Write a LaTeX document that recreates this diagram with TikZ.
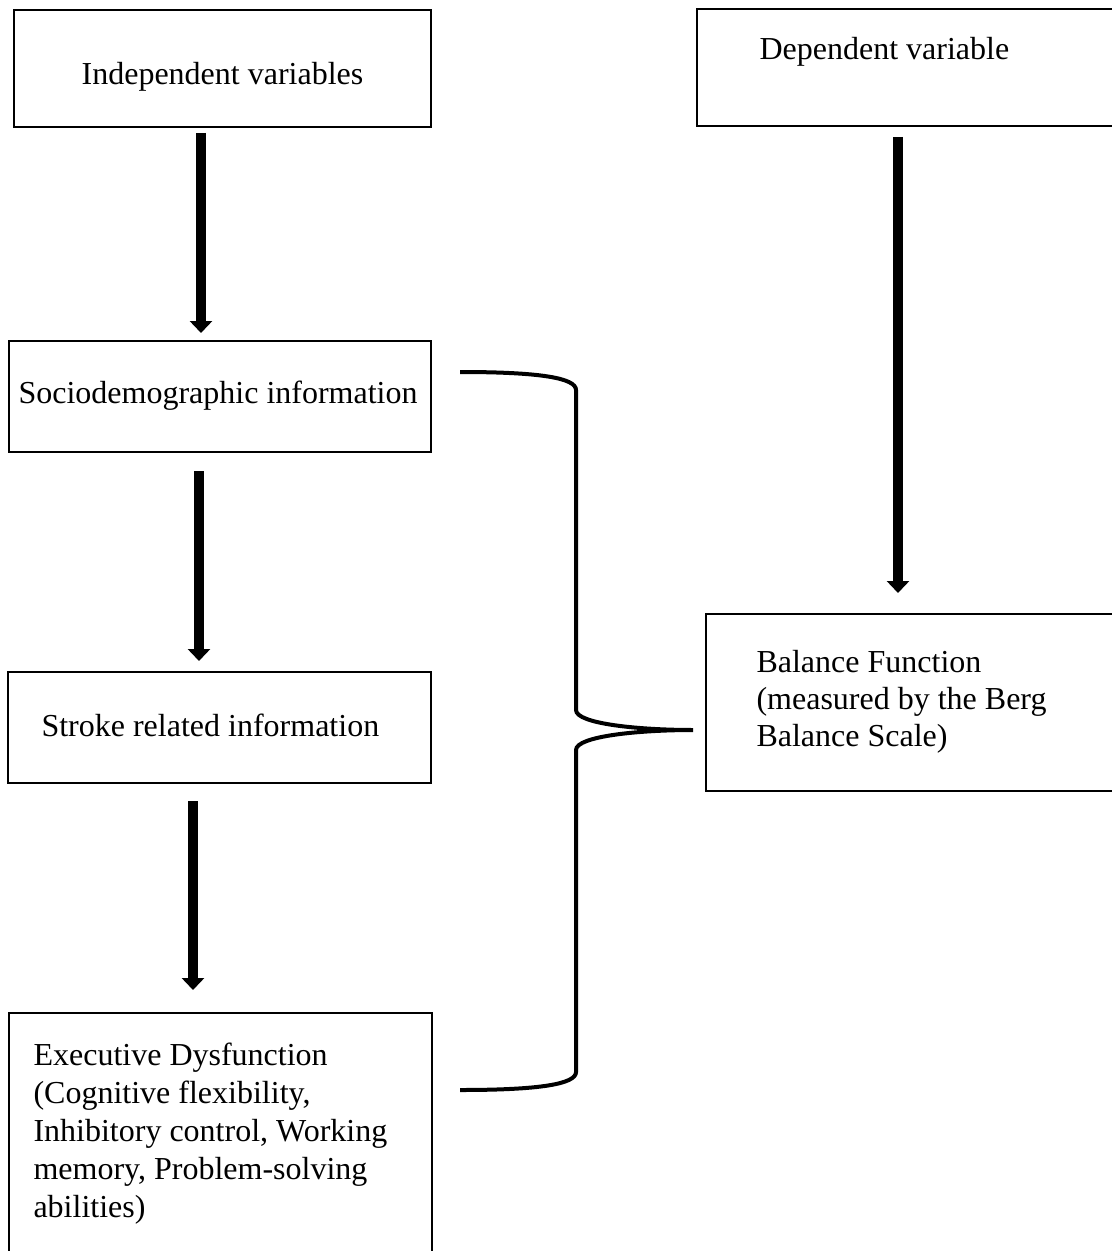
\documentclass[tikz,border=0pt]{standalone}
\usepackage{fontspec}
\setmainfont{Liberation Serif}
\usetikzlibrary{arrows.meta}
\def\PX{0.375pt}
\begin{document}
\begin{tikzpicture}[x=0.375pt,y=-0.375pt,
  box/.style={draw, line width=0.75pt, rectangle, inner sep=0pt, outer sep=0pt},
  txt/.style={font=\fontsize{12}{13.9}\selectfont, inner sep=0pt, align=left},
  bigarrow/.style={line width=3.9pt, -{Triangle[width=8.25pt,length=4.5pt]}},
  bracestyle/.style={line width=1.5pt}]
\useasboundingbox (0,0) rectangle (1112,1251);
\clip (0,0) rectangle (1112,1251);
% boxes
\node[box, minimum width={417*\PX}, minimum height={117*\PX}] (ind) at (222.5,68.5) {};
\node[box, minimum width={422*\PX}, minimum height={111*\PX}] (soc) at (220,396.5) {};
\node[box, minimum width={423*\PX}, minimum height={111*\PX}] (str) at (219.5,727.5) {};
\node[box, minimum width={423*\PX}, minimum height={260*\PX}] (exe) at (220.5,1143) {};
\node[box, minimum width={430*\PX}, minimum height={117*\PX}] (dep) at (912,67.5) {};
\node[box, minimum width={420*\PX}, minimum height={177*\PX}] (bal) at (916,702.5) {};
% texts
\node[txt, anchor=base] (tind) at (222.5,85) {Independent variables};
\node[txt, anchor=base west] (tsoc) at (18,403) {Sociodemographic information};
\node[txt, anchor=base west] (tstr) at (41,736) {Stroke related information};
\node[txt, font=\fontsize{12}{14.3}\selectfont, anchor=north west] (texe) at (33,1042) {Executive Dysfunction\\(Cognitive flexibility,\\Inhibitory control, Working\\memory, Problem-solving\\abilities)};
\node[txt, anchor=base west] (tdep) at (759,60) {Dependent variable};
\node[txt, anchor=north west] (tbal) at (756,650) {Balance Function\\(measured by the Berg\\Balance Scale)};
% arrow columns
\coordinate (c1) at (201,0);
\coordinate (c2) at (199,0);
\coordinate (c3) at (193,0);
\coordinate (c4) at (898,0);
\draw[bigarrow, shorten <=6*\PX, shorten >=8*\PX] (ind.south -| c1) -- (soc.north -| c1);
\draw[bigarrow, shorten <=19*\PX, shorten >=11*\PX] (soc.south -| c2) -- (str.north -| c2);
\draw[bigarrow, shorten <=18*\PX, shorten >=23*\PX] (str.south -| c3) -- (exe.north -| c3);
\draw[bigarrow, shorten <=11*\PX, shorten >=21*\PX] (dep.south -| c4) -- (bal.north -| c4);
% brace
\coordinate (b1) at (460,372);
\coordinate (btip) at (693,730);
\coordinate (b2) at (460,1090);
\draw[bracestyle] (b1) .. controls (540,372) and (576,378) .. (576,390)
  -- (576,710) .. controls (576,724) and (640,730) .. (btip)
  .. controls (640,730) and (576,736) .. (576,750)
  -- (576,1072) .. controls (576,1084) and (540,1090) .. (b2);
\end{tikzpicture}
\end{document}
